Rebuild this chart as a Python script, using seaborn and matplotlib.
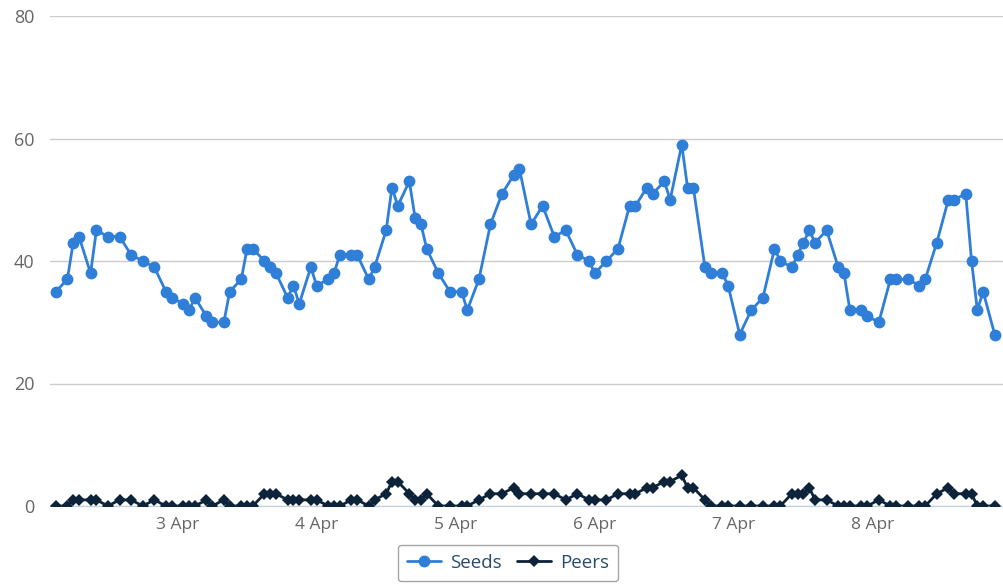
import seaborn as sns
import matplotlib.pyplot as plt
import matplotlib.dates as mdates
from matplotlib.ticker import FuncFormatter
import pandas as pd

# hours since 2 Apr 00:00
hours = [3, 5, 6, 7, 9, 10, 12, 14, 16, 18, 20, 22, 23, 25, 26, 27, 29, 30, 32, 33,
         35, 36, 37, 39, 40, 41, 43, 44, 45, 47, 48, 50, 51, 52, 54, 55, 57, 58, 60, 61,
         62, 64, 65, 66, 67, 69, 71, 73, 74, 76, 78, 80, 82, 83, 85, 87, 89, 91, 93, 95,
         96, 98, 100, 102, 103, 105, 106, 108, 109, 111, 112, 113, 115, 116, 118, 119, 121, 123, 125, 127,
         128, 130, 131, 132, 133, 134, 136, 138, 139, 140, 142, 143, 145, 147, 148, 150, 152, 153, 155, 157,
         158, 160, 161, 162, 163, 165]
seeds = [35, 37, 43, 44, 38, 45, 44, 44, 41, 40, 39, 35, 34, 33, 32, 34, 31, 30, 30, 35,
         37, 42, 42, 40, 39, 38, 34, 36, 33, 39, 36, 37, 38, 41, 41, 41, 37, 39, 45, 52,
         49, 53, 47, 46, 42, 38, 35, 35, 32, 37, 46, 51, 54, 55, 46, 49, 44, 45, 41, 40,
         38, 40, 42, 49, 49, 52, 51, 53, 50, 59, 52, 52, 39, 38, 38, 36, 28, 32, 34, 42,
         40, 39, 41, 43, 45, 43, 45, 39, 38, 32, 32, 31, 30, 37, 37, 37, 36, 37, 43, 50,
         50, 51, 40, 32, 35, 28]
peers = [0, 0, 1, 1, 1, 1, 0, 1, 1, 0, 1, 0, 0, 0, 0, 0, 1, 0, 1, 0,
         0, 0, 0, 2, 2, 2, 1, 1, 1, 1, 1, 0, 0, 0, 1, 1, 0, 1, 2, 4,
         4, 2, 1, 1, 2, 0, 0, 0, 0, 1, 2, 2, 3, 2, 2, 2, 2, 1, 2, 1,
         1, 1, 2, 2, 2, 3, 3, 4, 4, 5, 3, 3, 1, 0, 0, 0, 0, 0, 0, 0,
         0, 2, 2, 2, 3, 1, 1, 0, 0, 0, 0, 0, 1, 0, 0, 0, 0, 0, 2, 3,
         2, 2, 2, 0, 0, 0]

start = pd.Timestamp("2013-04-02")
times = start + pd.to_timedelta(hours, unit="h")
df = pd.DataFrame({"time": times, "Seeds": seeds, "Peers": peers})

sns.set_style("white")
plt.rcParams["font.family"] = ["Open Sans", "DejaVu Sans"]

fig = plt.figure(figsize=(10.04, 5.87), dpi=100)
ax = fig.add_axes([50 / 1004, 81 / 587, 954 / 1004, 490 / 587])

sns.lineplot(data=df, x="time", y="Seeds", ax=ax, color="#2f7ed8", lw=2,
             marker="o", markersize=8.5, markeredgewidth=0, label="Seeds")
sns.lineplot(data=df, x="time", y="Peers", ax=ax, color="#0d233a", lw=2,
             marker="D", markersize=6, markeredgewidth=0, label="Peers")

ax.set_ylim(0, 80)
ax.set_yticks([0, 20, 40, 60, 80])
ax.set_xlim(start + pd.Timedelta(hours=2.0), start + pd.Timedelta(hours=166.6))
ax.xaxis.set_major_locator(mdates.DayLocator())
ax.xaxis.set_major_formatter(FuncFormatter(
    lambda v, p: f"{mdates.num2date(v).day} {mdates.num2date(v).strftime('%b')}"))
ax.grid(axis="y", color="#cccccc", lw=1)
ax.set_axisbelow(True)
for s in ["top", "right", "left"]:
    ax.spines[s].set_visible(False)
ax.spines["bottom"].set_color("#c0d0e0")
ax.spines["bottom"].set_zorder(0.5)
ax.tick_params(axis="x", colors="#c0d0e0", length=6, width=1, direction="out",
               labelcolor="#666666", labelsize=12.5, pad=2)
ax.tick_params(axis="y", length=0, labelcolor="#666666", labelsize=13, pad=11)
ax.set_xlabel("")
ax.set_ylabel("")

ax.get_legend().remove()
h, l = ax.get_legend_handles_labels()
leg = fig.legend(h, l, loc="center", bbox_to_anchor=(508 / 1004, 24 / 587), ncol=2,
                 frameon=True, fancybox=True, edgecolor="#909090", fontsize=13.5,
                 handlelength=1.8, columnspacing=0.8, handletextpad=0.5,
                 borderpad=0.5)
for t in leg.get_texts():
    t.set_color("#274b6d")

plt.savefig("out.png", dpi=100)
